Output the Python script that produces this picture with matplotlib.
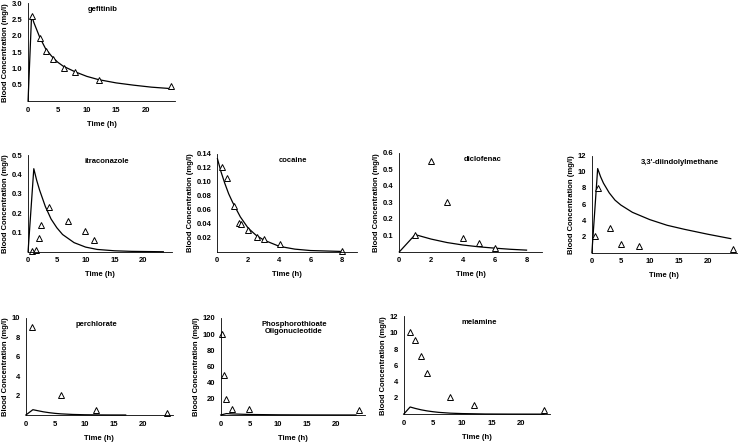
import matplotlib
matplotlib.use('Agg')
import matplotlib.pyplot as plt

plt.rcParams['font.family'] = ['Liberation Sans', 'DejaVu Sans']
plt.rcParams['font.weight'] = 'bold'
plt.rcParams['font.size'] = 5.5

gef_t = [0.75, 2, 3, 4.3, 6.2, 8, 12, 24.3]
gef_c = [2.6, 1.92, 1.55, 1.3, 1.02, 0.9, 0.65, 0.48]
gef_mt = [0, 0.6, 1, 2, 3, 4, 5, 6, 8, 10, 12, 15, 18, 21, 24]
gef_mc = [0, 2.62, 2.4, 1.95, 1.6, 1.38, 1.2, 1.07, 0.9, 0.76, 0.66, 0.56, 0.49, 0.43, 0.39]

itr_t = [0.74, 1.42, 1.82, 2.17, 3.6, 6.95, 9.97, 11.5]
itr_c = [0.003, 0.01, 0.072, 0.14, 0.23, 0.158, 0.11, 0.06]
itr_mt = [0, 1, 1.5, 2, 3, 4, 5, 6, 8, 10, 12, 15, 18, 23.5]
itr_mc = [0, 0.43, 0.37, 0.32, 0.235, 0.17, 0.125, 0.09, 0.048, 0.025, 0.013, 0.006, 0.003, 0.001]

coc_t = [0.32, 0.65, 1.1, 1.4, 1.57, 2.0, 2.6, 3.04, 4.05, 8.04]
coc_c = [0.121, 0.106, 0.066, 0.042, 0.040, 0.032, 0.021, 0.018, 0.011, 0.002]
coc_mt = [0.03, 0.25, 0.5, 0.75, 1, 1.5, 2, 2.5, 3, 4, 5, 6, 8]
coc_mc = [0.133, 0.115, 0.098, 0.083, 0.071, 0.05, 0.034, 0.024, 0.017, 0.008, 0.004, 0.002, 0.0007]

dic_t = [1, 2, 3, 4, 5, 6]
dic_c = [0.105, 0.55, 0.30, 0.085, 0.055, 0.025]
dic_mt = [0, 1, 2, 3, 4, 5, 6, 7, 8]
dic_mc = [0, 0.105, 0.078, 0.057, 0.042, 0.031, 0.023, 0.016, 0.011]

dim_t = [0.6, 1, 3.1, 5.1, 8.2, 24.4]
dim_c = [2.1, 8.0, 3.1, 1.03, 0.87, 0.45]
dim_mt = [0, 1, 1.5, 2, 3, 4, 5, 7, 10, 13, 16, 20, 24]
dim_mc = [0, 10.4, 9.4, 8.6, 7.4, 6.5, 5.9, 5.0, 4.1, 3.4, 2.9, 2.3, 1.75]

per_t = [1, 6, 12, 24]
per_c = [9.1, 2.05, 0.5, 0.17]
per_mt = [0, 1.2, 2, 3, 4, 5, 6, 8, 10, 12, 14, 17]
per_mc = [0, 0.55, 0.45, 0.33, 0.24, 0.17, 0.12, 0.06, 0.03, 0.015, 0.008, 0.004]

pso_t = [0.17, 0.5, 1, 2, 5, 24]
pso_c = [100, 50, 20, 8, 8, 6.5]
pso_mt = [0, 1, 2, 4, 6, 10, 15, 20, 23.5]
pso_mc = [0, 1.8, 1.4, 0.9, 0.6, 0.3, 0.15, 0.08, 0.05]

mel_t = [1, 2, 3, 4, 8, 12, 24]
mel_c = [10.1, 9.1, 7.1, 5.1, 2.1, 1.1, 0.57]
mel_mt = [0, 1.1, 2, 3, 4, 5, 6, 8, 10, 14, 18, 24]
mel_mc = [0, 0.88, 0.7, 0.53, 0.4, 0.3, 0.22, 0.12, 0.07, 0.02, 0.008, 0.002]

long_x = [0, 5, 10, 15, 20]
short_x = [0, 2, 4, 6, 8]

panels = [
    # name, pos (l, b, w, h), obs, model, xlim, xticks, ylim, yticks, fmt, title x
    ('gefitinib', (0.038, 0.771, 0.199, 0.222), gef_t, gef_c, gef_mt, gef_mc,
     25, long_x, 3.0, [0.5, 1.0, 1.5, 2.0, 2.5, 3.0], '%.1f', 0.51),
    ('itraconazole', (0.038, 0.430, 0.195, 0.219), itr_t, itr_c, itr_mt, itr_mc,
     25, long_x, 0.5, [0.1, 0.2, 0.3, 0.4, 0.5], '%.1f', 0.55),
    ('cocaine', (0.294, 0.430, 0.190, 0.222), coc_t, coc_c, coc_mt, coc_mc,
     9, short_x, 0.14, [0.02, 0.04, 0.06, 0.08, 0.10, 0.12, 0.14], '%.2f', 0.54),
    ('diclofenac', (0.541, 0.430, 0.194, 0.224), dic_t, dic_c, dic_mt, dic_mc,
     9, short_x, 0.6, [0.1, 0.2, 0.3, 0.4, 0.5, 0.6], '%.1f', 0.58),
    ("3,3'-diindolylmethane", (0.802, 0.428, 0.196, 0.220), dim_t, dim_c, dim_mt, dim_mc,
     25, long_x, 12, [2, 4, 6, 8, 10, 12], '%d', 0.61),
    ('perchlorate', (0.035, 0.061, 0.199, 0.220), per_t, per_c, per_mt, per_mc,
     25, long_x, 10, [2, 4, 6, 8, 10], '%d', 0.48),
    ('Phosphorothioate\nOligonucleotide', (0.299, 0.061, 0.195, 0.220), pso_t, pso_c, pso_mt, pso_mc,
     25, long_x, 120, [20, 40, 60, 80, 100, 120], '%d', 0.51),
    ('melamine', (0.547, 0.063, 0.198, 0.221), mel_t, mel_c, mel_mt, mel_mc,
     25, long_x, 12, [2, 4, 6, 8, 10, 12], '%d', 0.52),
]

fig = plt.figure(figsize=(7.38, 4.42), dpi=100)

for name, pos, t, c, mt, mc, xmax, xt, ymax, yt, fmt, tx in panels:
    ax = fig.add_axes(pos)
    ax.plot(mt, mc, color='black', linewidth=0.9, clip_on=False)
    ax.plot(t, c, linestyle='none', marker='^', markersize=5,
            markerfacecolor='white', markeredgecolor='black', markeredgewidth=0.7,
            clip_on=False)
    ax.set_xlim(0, xmax)
    ax.set_ylim(0, ymax)
    ax.set_xticks(xt)
    ax.set_yticks(yt)
    ax.set_yticklabels([fmt % v for v in yt])
    ax.spines['top'].set_visible(False)
    ax.spines['right'].set_visible(False)
    ax.spines['left'].set_linewidth(0.6)
    ax.spines['bottom'].set_linewidth(0.6)
    ax.tick_params(length=0, pad=4, labelsize=5.5)
    ax.set_xlabel('Time (h)', fontweight='bold', labelpad=5)
    ax.set_ylabel('Blood Concentration (mg/l)', fontweight='bold', labelpad=2)
    ax.text(tx, 0.97, name, transform=ax.transAxes, ha='center', va='top',
            fontweight='bold', linespacing=1.1)

fig.savefig('out.png', dpi=100)
